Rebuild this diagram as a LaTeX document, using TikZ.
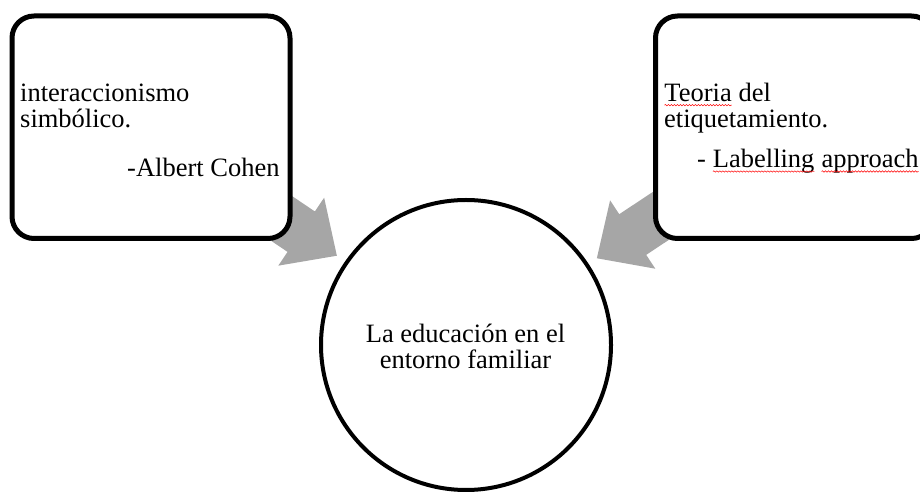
\documentclass[tikz,border=0pt]{standalone}
\usepackage{fontspec}
\setmainfont{Liberation Serif}
\usetikzlibrary{calc,backgrounds,decorations.pathmorphing}

\definecolor{gris}{RGB}{166,166,166}

\newcommand{\subrojo}[1]{\tikz[baseline=0pt]{\node[inner sep=0pt,outer sep=0pt,anchor=base] (palabra) at (0,0) {#1};
    \draw[red,line width=0.5pt,decorate,decoration={snake,segment length=3pt,amplitude=0.7pt}]
        ([yshift=-3.5pt]palabra.base west) -- ([yshift=-3.5pt]palabra.base east);}}

\begin{document}
\begin{tikzpicture}[x=1pt,y=1pt,
        caja/.style={draw,line width=5pt,rounded corners=22pt,fill=white,
                     minimum width=278pt,minimum height=222.5pt},
        texto/.style={anchor=base west,inner sep=0pt,font=\fontsize{26.5}{27}\selectfont},
        flecha/.style={fill=gris}]

            \useasboundingbox (0,0) rectangle (920,492);

            \path   (151,364.75) node (izq) [caja] {}
                    (794.5,364.75) node (der) [caja] {}
                    (466,147) node (centro) [circle,draw,line width=4pt,minimum size=290pt] {};

            % texto de las cajas
            \node (izq1) [texto] at (20,390.3) {interaccionismo};
            \node (izq2) [texto] at (20,364) {simbólico.};
            \node (izq3) [texto] at (127,315.3) {-Albert Cohen};
            \node (der1) [texto] at (664,390.3) {\subrojo{Teoria} del};
            \node (der2) [texto] at (664,364) {etiquetamiento.};
            \node (der3) [texto] at (697,324) {- \subrojo{Labelling} \subrojo{approach}};
            \node (cen1) [texto,anchor=base] at (465.5,149.3) {La educación en el};
            \node (cen2) [texto,anchor=base] at (465.5,123) {entorno familiar};

            \coordinate (puntaizq) at ($(centro)!157pt!(izq)$);
            \coordinate (puntader) at ($(centro)!157pt!(der)$);

            \begin{scope}[on background layer]
                \fill[flecha,shift={(puntaizq)},rotate=-34]
                    (0,0) -- (-43,41) -- (-43,24.4) -- (-170,24.4) -- (-170,-24.4)
                    -- (-43,-24.4) -- (-43,-41) -- cycle;
                \fill[flecha,shift={(puntader)},rotate=213.5]
                    (0,0) -- (-43,41) -- (-43,24.4) -- (-170,24.4) -- (-170,-24.4)
                    -- (-43,-24.4) -- (-43,-41) -- cycle;
            \end{scope}
        \end{tikzpicture}
\end{document}
